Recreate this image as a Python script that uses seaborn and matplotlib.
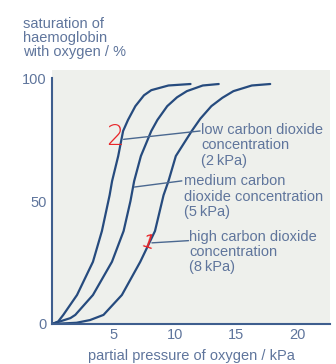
import matplotlib
matplotlib.use("Agg")
import matplotlib.pyplot as plt
import seaborn as sns
import pandas as pd

# ---- data ----
low_x = [0, 0.5, 0.92, 2.04, 3.34, 4.07, 4.7, 4.9, 5.4, 5.8, 6.2, 6.8, 7.5, 8.1, 9.5, 11.3]
low_y = [0, 1.0, 3.7, 11.8, 25.3, 37.8, 52.4, 58.1, 68.3, 78.5, 83.0, 88.6, 93.0, 95.1, 97.0, 97.6]
med_x = [0, 1.5, 1.9, 3.34, 4.89, 5.84, 6.4, 6.7, 7.25, 8.1, 8.6, 9.4, 10.2, 11.0, 12.3, 13.6]
med_y = [0, 2.4, 3.7, 11.8, 25.3, 37.8, 50.0, 58.1, 68.3, 78.5, 83.0, 88.6, 92.2, 94.7, 97.0, 97.6]
high_x = [0, 2.0, 3.1, 4.2, 5.7, 7.2, 8.4, 9.1, 9.5, 10.1, 11.4, 12.1, 13.0, 13.9, 14.8, 16.3, 17.8]
high_y = [0, 0.5, 1.6, 3.7, 11.8, 25.3, 37.8, 52.4, 58.1, 68.3, 78.5, 83.5, 88.6, 92.0, 94.7, 97.0, 97.6]

curve_names = ["low", "medium", "high"]
labels = ["low carbon dioxide\nconcentration\n(2\u2009kPa)",
          "medium carbon\ndioxide concentration\n(5\u2009kPa)",
          "high carbon dioxide\nconcentration\n(8\u2009kPa)"]
x_ticks = [5, 10, 15, 20]
y_ticks = [0, 50, 100]
y_title = "saturation of\nhaemoglobin\nwith oxygen / %"
x_title = "partial pressure of oxygen / kPa"

frames = []
for name, xs, ys in zip(curve_names, [low_x, med_x, high_x], [low_y, med_y, high_y]):
    frames.append(pd.DataFrame({"x": xs, "y": ys, "curve": name}))
df = pd.concat(frames, ignore_index=True)

# ---- styling ----
sns.set_style("white")
plt.rcParams["font.family"] = ["Liberation Sans", "DejaVu Sans"]

line_col = "#264b7e"
spine_col = "#3e5e8e"
text_col = "#5f759c"
bg_col = "#eef0ec"

fig = plt.figure(figsize=(3.36, 3.64), dpi=100)
ax = fig.add_axes([0.1548, 0.1099, 0.8274, 0.6978])
ax.set_facecolor(bg_col)

sns.lineplot(data=df, x="x", y="y", hue="curve", palette=[line_col] * 3,
             sort=False, legend=False, linewidth=1.6, ax=ax, estimator=None)
for ln in ax.get_lines():
    ln.set_solid_joinstyle("round")

ax.set_xlim(0, 22.68)
ax.set_ylim(0, 103.3)
ax.set_xticks(x_ticks)
ax.set_yticks(y_ticks)
ax.set_xticklabels([str(t) for t in x_ticks])
ax.set_yticklabels([str(t) for t in y_ticks])
ax.tick_params(axis="both", direction="in", length=4, width=1, color=spine_col,
               labelcolor=text_col, labelsize=10.5, pad=3)
ax.tick_params(axis="y", pad=4)
ax.set_xlabel(x_title, color=text_col, fontsize=10.5, labelpad=5)
ax.set_ylabel("")

for s in ["top", "right"]:
    ax.spines[s].set_visible(False)
for s in ["left", "bottom"]:
    ax.spines[s].set_color(spine_col)
    ax.spines[s].set_linewidth(1.5)
ax.spines["left"].set_bounds(0, 100)

fig.text(23 / 336, 1 - 17 / 364, y_title, ha="left", va="top",
         color=text_col, fontsize=10.5, linespacing=1.02)

# pointers and labels
pointer_from = [(5.84, 75.1), (6.72, 55.7), (8.15, 33.0)]
pointer_to = [(12.08, 78.5), (10.59, 58.2), (11.14, 33.9)]
text_pos = [(12.15, 81.8), (10.75, 60.8), (11.2, 38.4)]
for (x0, y0), (x1, y1), (tx, ty), lab in zip(pointer_from, pointer_to, text_pos, labels):
    ax.plot([x0, x1], [y0, y1], color="#4a6890", linewidth=1.0)
    ax.text(tx, ty, lab, ha="left", va="top", color=text_col, fontsize=10.5,
            linespacing=1.12)

# red handwritten marks
ax.text(5.1, 76.0, "2", color="#e8262a", fontsize=20, ha="center", va="center",
        fontfamily="DejaVu Sans", fontweight="light")
ax.text(7.8, 33.0, "1", color="#e8262a", fontsize=15, ha="center", va="center",
        rotation=-18, fontweight="light")

fig.savefig("out.png", dpi=100, facecolor="white")
